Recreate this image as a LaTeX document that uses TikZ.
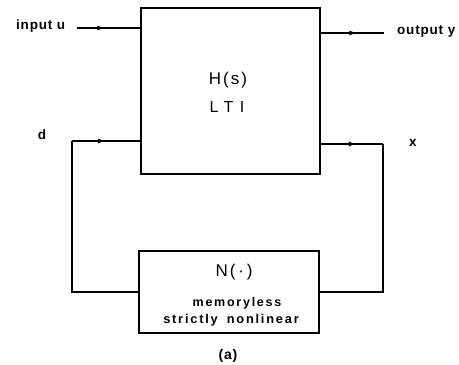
\documentclass[tikz,border=0pt]{standalone}
\usepackage{fontspec}
\setmainfont{Liberation Sans}
\newfontfamily\spaced[LetterSpace=12]{Liberation Sans}
\newfontfamily\spacedwide[LetterSpace=40]{Liberation Sans}
\newfontfamily\spacedbold[LetterSpace=6]{Liberation Sans Bold}
\newfontfamily\spacedboldwide[LetterSpace=14]{Liberation Sans Bold}
\usetikzlibrary{arrows.meta,decorations.markings}
\tikzset{
  wire/.style={line width=1.6pt},
  blockbox/.style={draw,line width=1.6pt,inner sep=0pt},
  lbl/.style={inner sep=0pt,font=\spacedbold\fontsize{13.5}{15}\selectfont},
  midarrow/.style={wire,postaction={decorate},decoration={markings,
     mark=at position #1 with {\arrow{Latex[length=8pt,width=5pt]}}}},
}
\begin{document}
\begin{tikzpicture}[x=1pt,y=-1pt]
\useasboundingbox (0,0) rectangle (459,365);
% blocks
\node[blockbox,minimum width=179pt,minimum height=166pt] (H) at (230.5,91) {};
\node[inner sep=0pt,font=\spaced\fontsize{17}{19}\selectfont] (Ht) at (228,80) {H(s)};
\node[inner sep=0pt,font=\spacedwide\fontsize{16}{18}\selectfont] (Hl) at (227,107) {LTI};
\node[blockbox,minimum width=180pt,minimum height=82pt] (N) at (229,292) {};
\node[inner sep=0pt,font=\spaced\fontsize{17}{19}\selectfont] (Nt) at (234,272) {N(\,·\,)};
\node[lbl,font=\spacedboldwide\fontsize{12.5}{14}\selectfont] (Nm) at (237,303) {memoryless};
\node[lbl,font=\spacedboldwide\fontsize{12.8}{14}\selectfont] (Ns) at (231,320) {strictly\hspace{9pt}nonlinear};
\node[lbl,font=\spacedbold\fontsize{14}{16}\selectfont] (cap) at (228,356) {(a)};
% labels
\node[lbl,anchor=west] (in) at (16,26) {input u};
\node[lbl,anchor=west] (out) at (397,31) {output y};
\node[lbl] (dl) at (42,135) {d};
\node[lbl] (xl) at (413,143) {x};
% wire coordinates
\coordinate (inL) at (77,28);
\coordinate (outR) at (384,33);
\coordinate (dc) at (72,141);
\coordinate (xc) at (383,144);
% connectors
\draw[midarrow=0.45] (inL) -- (inL -| H.west);
\draw[midarrow=0.58] (outR -| H.east) -- (outR);
\draw[wire] (N.west) -| (dc);
\draw[midarrow=0.5] (dc) -- (dc -| H.west);
\draw[midarrow=0.58] (xc -| H.east) -- (xc);
\draw[wire] (xc) |- (N.east);
\end{tikzpicture}
\end{document}
